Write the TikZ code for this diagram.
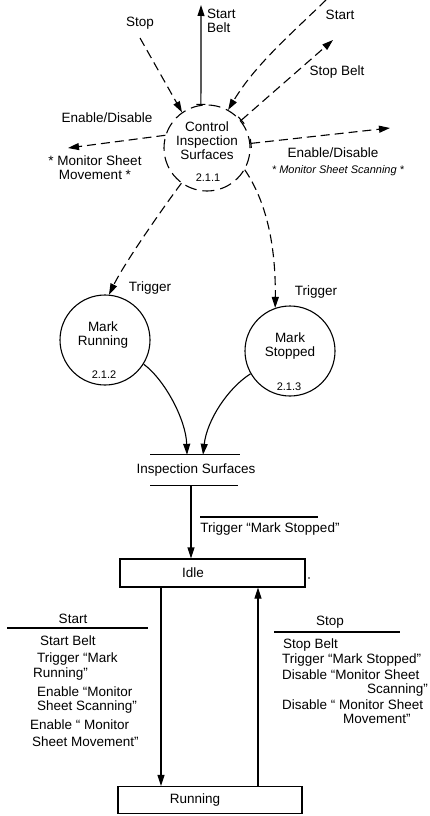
\documentclass[tikz,border=0pt]{standalone}
\usepackage{fontspec}
\setmainfont{Liberation Sans}
\usetikzlibrary{arrows.meta,calc}
\begin{document}
\begin{tikzpicture}[x=1pt,y=-1pt,
  every node/.style={font=\fontsize{13.5}{14}\selectfont, inner sep=0pt},
  line/.style={line width=1.1pt},
  dsh/.style={line width=1.1pt, dash pattern=on 9pt off 5pt},
  tip/.style={-{Triangle[length=11pt,width=7pt]}},
  bartip/.style={{Bar[width=9pt]}-{Triangle[length=11pt,width=7pt]}},
  proc/.style={draw, circle, line width=1.1pt, minimum size=90pt},
  box/.style={draw, rectangle, line width=1.1pt},
  small/.style={font=\fontsize{11}{12}\selectfont\itshape},
  num/.style={font=\fontsize{11}{12}\selectfont}]
\useasboundingbox[fill=white] (0,0) rectangle (430,816);

% ---------- Control Inspection Surfaces ----------
\node[proc, dash pattern=on 12pt off 6pt, minimum size=86pt] (ctl) at (207,148) {};
\node[align=center] (ctlt) at (207,141) {Control\\Inspection\\Surfaces};
\node[num] (ctln) at (208,178) {2.1.1};

\coordinate (stopS) at (140,38);
\coordinate (sbE) at (201,5);
\coordinate (stS) at (326,0);
\coordinate (sblE) at (333,40);
\coordinate (enLE) at (68,148);
\coordinate (enRE) at (390,128);

\draw[dsh,tip] (stopS) -- (ctl.125);
\draw[line,bartip] (ctl.98) -- (sbE);
\draw[dsh,tip] (stS) .. controls (290,35) and (255,65) .. (ctl.61);
\draw[dsh,bartip] (ctl.39) -- (sblE);
\draw[dsh,tip] (ctl.163) -- (enLE);
\draw[dsh,bartip] (ctl.6) -- (enRE);

\node (lStop) at (140,23) {Stop};
\node[align=left, anchor=west] (lSB) at (207,21) {Start\\Belt};
\node (lStart) at (340,15) {Start};
\node (lStopB) at (337,72) {Stop Belt};
\node (lEnL) at (107,118) {Enable/Disable};
\node[align=center] (lMSM) at (95,168) {* Monitor Sheet\\Movement *};
\node (lEnR) at (333,153) {Enable/Disable};
\node[small] (lMSS) at (338,171) {* Monitor Sheet Scanning *};

% ---------- Mark Running / Mark Stopped ----------
\node[proc] (mr) at (105,340) {};
\node[align=center] (mrt) at (103,335) {Mark\\Running};
\node[num] (mrn) at (104,375) {2.1.2};

\node[proc] (ms) at (290,351) {};
\node[align=center] (mst) at (290,346) {Mark\\Stopped};
\node[num] (msn) at (289,387) {2.1.3};

\draw[dsh,tip] (ctl.234) .. controls (165,205) and (125,262) .. (mr.85);
\draw[dsh,tip] (ctl.-30) .. controls (262,195) and (276,235) .. (ms.109);
\node (lTr1) at (150,288) {Trigger};
\node (lTr2) at (316,292) {Trigger};

% ---------- Inspection Surfaces store ----------
\node[minimum height=30pt] (store) at (196,470) {Inspection Surfaces};
\draw[line] ([xshift=-46pt]store.north) -- ([xshift=44pt]store.north);
\draw[line] ([xshift=-46pt]store.south) -- ([xshift=42pt]store.south);

\draw[line,tip] (mr.-32) .. controls (165,380) and (186,420) .. ([xshift=-9pt]store.north);
\draw[line,tip] (ms.210) .. controls (228,388) and (207,420) .. ([xshift=7pt]store.north);

% ---------- Idle / Running ----------
\node[box, minimum width=185pt, minimum height=28pt] (idle) at (212.5,573) {};
\node (idlet) at (193,573) {Idle};
\fill (309,578) circle (0.9pt);
\node[box, minimum width=184pt, minimum height=27pt] (running) at (210,800) {};
\node (runt) at (195,800) {Running};

\coordinate (sa) at ([xshift=-5pt]store.south);
\draw[line,tip] (sa) -- (sa |- idle.north);
\node (trig) at (270,529) {Trigger “Mark Stopped”};
\draw[line] (200,517) -- (318,517);

\coordinate (dA) at ([xshift=-51.5pt]idle.south);
\draw[line,tip] (dA) -- (dA |- running.north);
\coordinate (uA) at ([xshift=48pt]running.north);
\draw[line,tip] (uA) -- (uA |- idle.south);

% ---------- Start transition ----------
\node (startL) at (73,619) {Start};
\draw[line] (7,628) -- (148,628);
\node[anchor=west] (a1) at (40,641) {Start Belt};
\node[anchor=west] (a2) at (37,659) {Trigger “Mark};
\node[anchor=west] (a3) at (33,674) {Running”};
\node[anchor=west] (a4) at (37,692) {Enable “Monitor};
\node[anchor=west] (a5) at (37,707) {Sheet Scanning”};
\node[anchor=west] (a6) at (30,725) {Enable “ Monitor};
\node[anchor=west] (a7) at (32,742) {Sheet Movement”};

% ---------- Stop transition ----------
\node (stopL) at (330,622) {Stop};
\draw[line] (274,632) -- (400,632);
\node[anchor=west] (b1) at (283,645) {Stop Belt};
\node[anchor=west] (b2) at (282,660) {Trigger “Mark Stopped”};
\node[anchor=west] (b3) at (282,675) {Disable “Monitor Sheet};
\node[anchor=east] (b4) at (428,690) {Scanning”};
\node[anchor=west] (b5) at (282,705) {Disable “ Monitor Sheet};
\node[anchor=west] (b6) at (343,719) {Movement”};
\end{tikzpicture}
\end{document}
